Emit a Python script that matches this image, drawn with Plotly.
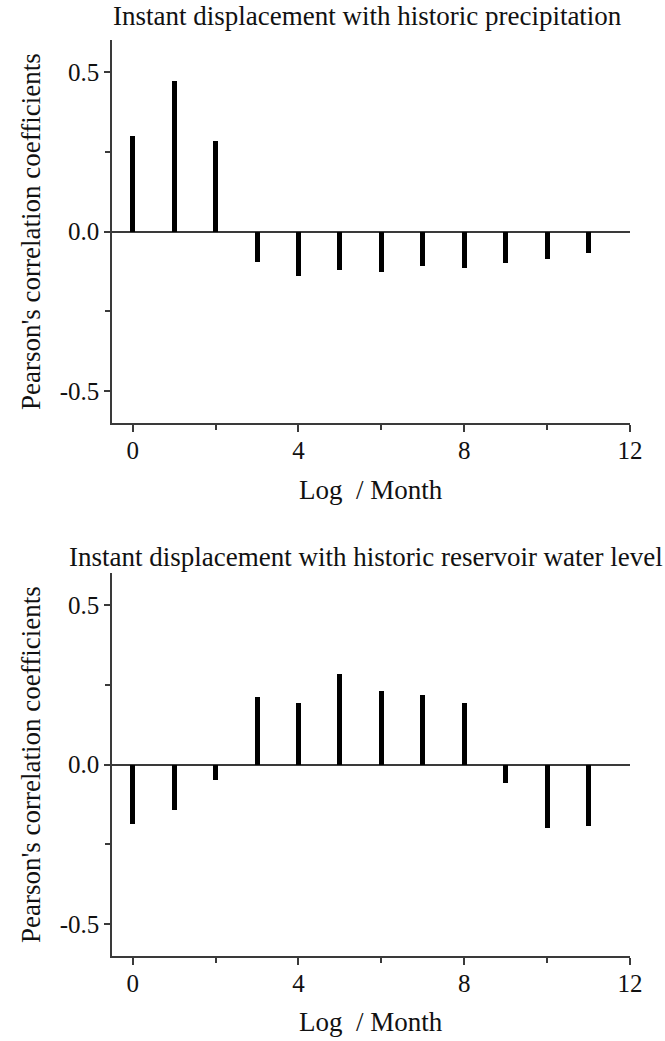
import plotly.graph_objects as go

lags = list(range(12))
precip_corr = [0.298, 0.470, 0.284, -0.097, -0.138, -0.121, -0.127, -0.108, -0.113, -0.100, -0.085, -0.067]
reservoir_corr = [-0.185, -0.143, -0.047, 0.212, 0.193, 0.283, 0.230, 0.218, 0.192, -0.057, -0.200, -0.192]

x_ticks = [0, 4, 8, 12]
x_minor = [2, 6, 10]
y_ticks = [-0.5, 0.0, 0.5]
y_ticktext = ["-0.5", "0.0", "0.5"]
y_minor = [-0.25, 0.25]

title_top = "Instant displacement with historic precipitation"
title_bottom = "Instant displacement with historic reservoir water level"
x_label = "Log  / Month"
y_label = "Pearson's correlation coefficients"

FONT = "Liberation Serif"
AX = "#3a3a3a"
TXT = "#111111"

W, H = 665, 1041
ML, MR, MT, MB = 112, 35, 40, 85
plot_h = H - MT - MB


def py(p):
    return (H - MB - p) / plot_h


def px(p):
    return (p - ML) / (W - ML - MR)


fig = go.Figure()
fig.add_trace(go.Bar(x=lags, y=precip_corr, width=0.12, marker=dict(color="black", line=dict(width=0)),
                     xaxis="x", yaxis="y"))
fig.add_trace(go.Bar(x=lags, y=reservoir_corr, width=0.12, marker=dict(color="black", line=dict(width=0)),
                     xaxis="x2", yaxis="y2"))

TICKFONT = dict(family=FONT, size=25, color=TXT)
xcommon = dict(range=[-0.5, 12], tickvals=x_ticks, ticks="outside", ticklen=7, tickwidth=1.5,
               tickcolor=AX, showline=True, linecolor=AX, linewidth=1.5, showgrid=False,
               zeroline=False, tickfont=TICKFONT, ticklabelstandoff=-3,
               minor=dict(tickvals=x_minor, ticks="outside", ticklen=5, tickwidth=1.5, tickcolor=AX))
ycommon = dict(range=[-0.6, 0.6], tickvals=y_ticks, ticktext=y_ticktext, ticks="outside", ticklen=6,
               tickwidth=1.5, tickcolor=AX, showline=True, linecolor=AX, linewidth=1.5, showgrid=False,
               zeroline=True, zerolinecolor=AX, zerolinewidth=1.5, tickfont=TICKFONT,
               minor=dict(tickvals=y_minor, ticks="outside", ticklen=5, tickwidth=1.5, tickcolor=AX))

top_dom = [py(423), 1.0]
bot_dom = [0.0, py(573)]

fig.update_layout(
    width=W, height=H,
    margin=dict(l=ML, r=MR, t=MT, b=MB),
    paper_bgcolor="white", plot_bgcolor="white",
    showlegend=False, bargap=0,
    font=dict(family=FONT, color=TXT),
    xaxis=dict(anchor="y", domain=[0, 1], **xcommon),
    yaxis=dict(anchor="x", domain=top_dom, **ycommon),
    xaxis2=dict(anchor="y2", domain=[0, 1], **xcommon),
    yaxis2=dict(anchor="x2", domain=bot_dom, **ycommon),
)

LABFONT = dict(family=FONT, size=27, color=TXT)
ann = []
ann.append(dict(text=title_top, x=px(367), y=py(16), xref="paper", yref="paper",
                xanchor="center", yanchor="middle", showarrow=False, font=LABFONT))
ann.append(dict(text=title_bottom, x=px(366), y=py(557), xref="paper", yref="paper",
                xanchor="center", yanchor="middle", showarrow=False, font=LABFONT))
ann.append(dict(text=x_label, x=px(371), y=py(490), xref="paper", yref="paper",
                xanchor="center", yanchor="middle", showarrow=False, font=LABFONT))
ann.append(dict(text=x_label, x=px(371), y=py(1022), xref="paper", yref="paper",
                xanchor="center", yanchor="middle", showarrow=False, font=LABFONT))
ann.append(dict(text=y_label, x=px(31), y=py(232), xref="paper", yref="paper", textangle=-90,
                xanchor="center", yanchor="middle", showarrow=False, font=LABFONT))
ann.append(dict(text=y_label, x=px(31), y=py(765), xref="paper", yref="paper", textangle=-90,
                xanchor="center", yanchor="middle", showarrow=False, font=LABFONT))
fig.update_layout(annotations=ann)

fig.write_html("out.html")
